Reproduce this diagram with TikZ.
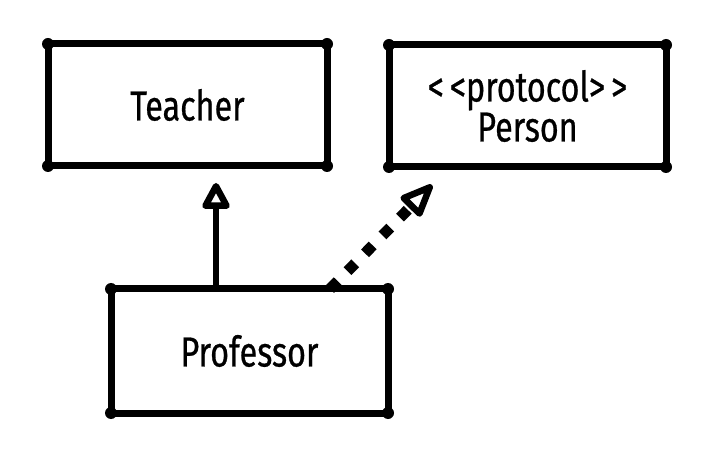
\documentclass[tikz,border=0pt]{standalone}
\usepackage{fontspec}
\newfontfamily\hand[FakeStretch=0.77,FakeBold=0.6]{Fira Sans}
\usetikzlibrary{arrows.meta,calc}
\tikzset{
  umlbox/.style={draw, line width=7pt, line join=round, outer sep=0pt, inner sep=0pt,
    font=\hand\fontsize{42}{40}\selectfont, align=center, text=black},
  blob/.style={fill=black},
  gen/.style={line width=6.5pt, -{Triangle[open, length=30pt, width=30pt, line width=6.5pt, round]}},
  real/.style={line width=11pt, dash pattern=on 11pt off 14pt,
    -{Triangle[open, length=38pt, width=30pt, line width=6.5pt, round]}}
}
\begin{document}
\begin{tikzpicture}[x=1pt,y=-1pt]
\useasboundingbox[fill=white] (0,0) rectangle (712,454);
\node[umlbox, minimum width=279pt, minimum height=122pt] (teacher) at (187.5,105) {Teacher};
\node[umlbox, minimum width=277pt, minimum height=122pt] (person) at (527.5,106) {<\kern6pt<protocol>\kern6pt>\\Person};
\node[umlbox, minimum width=277pt, minimum height=124pt] (prof) at (249.5,351) {Professor};
\foreach \n in {teacher,person,prof}
  \foreach \c in {north west,north east,south west,south east}
    \fill[blob] (\n.\c) circle (6pt);
\coordinate (tipA) at (216,183);
\coordinate (startB) at (330,289);
\coordinate (tipB) at (432,185);
\draw[gen] (prof.north -| tipA) -- (tipA);
\draw[real] (prof.north -| startB) -- (tipB);
\end{tikzpicture}
\end{document}
